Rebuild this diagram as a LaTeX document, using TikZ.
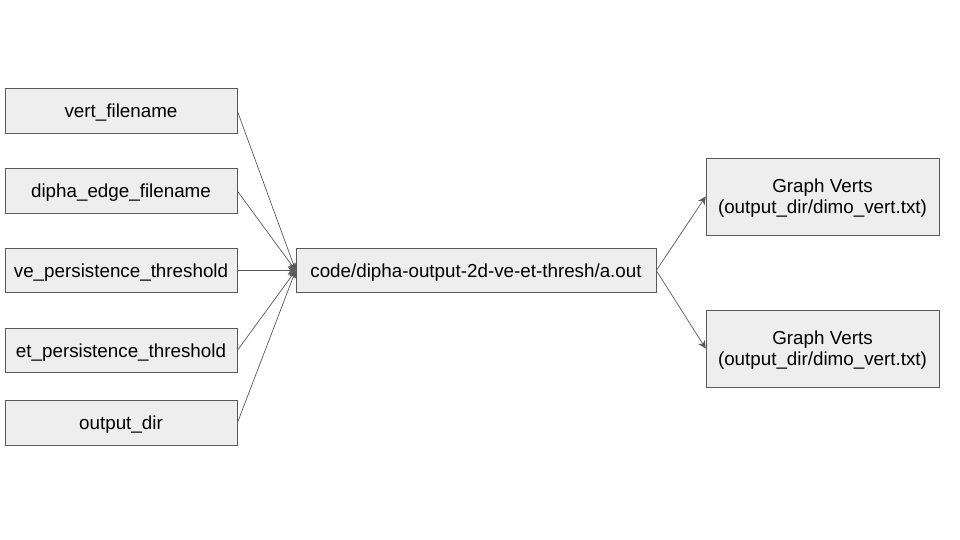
\documentclass[tikz,border=0pt]{standalone}
\usepackage{fontspec}
\setmainfont{Liberation Sans}
\usepackage{xcolor}
\usetikzlibrary{arrows.meta}

\definecolor{boxfill}{HTML}{EEEEEE}
\definecolor{boxline}{HTML}{595959}

\begin{document}
\begin{tikzpicture}[x=0.02cm, y=-0.02cm]
        \useasboundingbox (0,0) rectangle (960,540);

        \begin{scope}[every node/.style = {rectangle, draw=boxline, fill=boxfill, thin,
                        inner sep=0pt, align=center, font=\fontsize{10.7}{12}\selectfont,
                        text depth=0pt, minimum height=0.89cm}]
            \node[minimum width=4.64cm] (vert)  at (121, 111)   {vert\_filename};
            \node[minimum width=4.64cm] (edge)  at (121, 191)   {dipha\_edge\_filename};
            \node[minimum width=4.64cm] (vep)   at (121, 270.5) {ve\_persistence\_threshold};
            \node[minimum width=4.64cm] (etp)   at (121, 350.5) {et\_persistence\_threshold};
            \node[minimum width=4.64cm] (outd)  at (121, 423)   {output\_dir};

            \node[minimum width=7.2cm] (prog) at (476, 270.5) {code/dipha-output-2d-ve-et-thresh/a.out};

            \node[minimum width=4.66cm, minimum height=1.54cm] (gv1) at (822.5, 196.5)
                {Graph Verts\\(output\_dir/dimo\_vert.txt)};
            \node[minimum width=4.66cm, minimum height=1.54cm] (gv2) at (822.5, 348.5)
                {Graph Verts\\(output\_dir/dimo\_vert.txt)};
        \end{scope}

        \begin{scope}[>={Stealth[length=4.5pt, width=4.5pt]},
                        every edge/.style={draw=boxline, thin}]
            \path [->] (vert.east) edge (prog.west);
            \path [->] (edge.east) edge (prog.west);
            \path [->] (vep.east)  edge (prog.west);
            \path [->] (etp.east)  edge (prog.west);
            \path [->] (outd.east) edge (prog.west);

            \path [->] (prog.east) edge (gv1.west);
            \path [->] (prog.east) edge (gv2.west);
        \end{scope}
    \end{tikzpicture}
\end{document}
